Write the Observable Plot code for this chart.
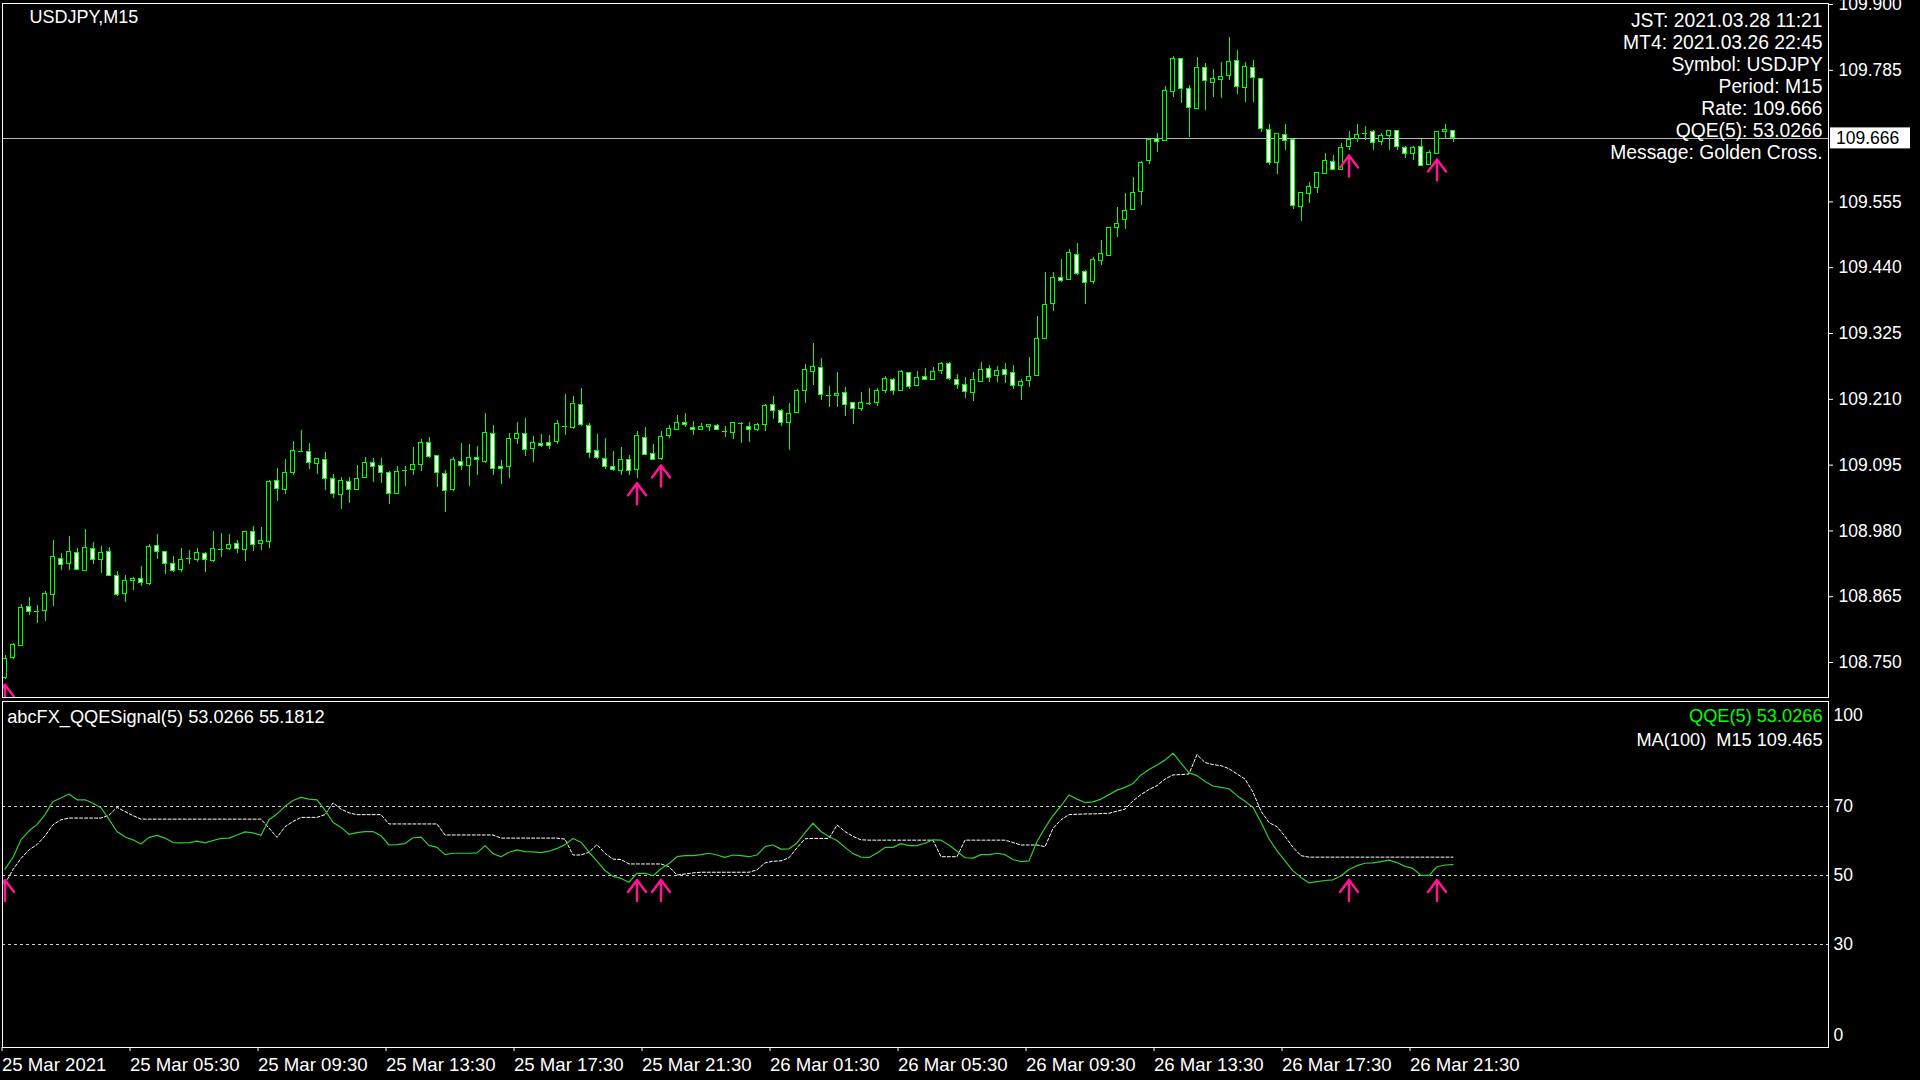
<!DOCTYPE html>
<html><head><meta charset="utf-8">
<script src="https://cdn.jsdelivr.net/npm/d3@7"></script>
<script src="https://cdn.jsdelivr.net/npm/@observablehq/plot@0.6"></script>
<style>
html,body{margin:0;padding:0;background:#000;}
#chart{position:relative;width:1920px;height:1080px;background:#000;overflow:hidden;}
#chart svg{position:absolute;left:0;}
svg text{white-space:pre;}
</style></head><body><div id="chart"></div>
<script>
// ---- data (USDJPY M15, bar 0 = 25 Mar 01:30) ----
const opens = [
108.723,108.758,108.779,108.847,108.840,108.840,108.868,108.931,108.922,108.942,
108.910,108.949,108.929,108.943,108.901,108.869,108.892,108.896,108.887,108.954,
108.943,108.922,108.911,108.931,108.929,108.940,108.927,108.948,108.948,108.957,
108.946,108.978,108.957,108.960,109.068,109.051,109.081,109.119,109.118,109.097,
109.104,109.070,109.042,109.066,109.052,109.072,109.099,109.094,109.082,109.045,
109.085,109.086,109.095,109.134,109.111,109.080,109.051,109.101,109.093,109.108,
109.101,109.150,109.092,109.091,109.140,109.150,109.123,109.132,109.134,109.135,
109.163,109.160,109.200,109.164,109.119,109.106,109.091,109.084,109.104,109.086,
109.143,109.115,109.105,109.146,109.156,109.169,109.160,109.156,109.162,109.164,
109.153,109.151,109.167,109.162,109.156,109.165,109.200,109.190,109.168,109.186,
109.224,109.258,109.265,109.216,109.216,109.221,109.203,109.193,109.203,109.203,
109.224,109.244,109.225,109.256,109.233,109.249,109.243,109.259,109.271,109.244,
109.235,109.221,109.241,109.263,109.250,109.261,109.256,109.233,109.242,109.250,
109.315,109.376,109.422,109.418,109.462,109.433,109.415,109.451,109.461,109.509,
109.523,109.541,109.572,109.626,109.665,109.661,109.747,109.805,109.753,109.717,
109.789,109.763,109.768,109.775,109.802,109.754,109.789,109.769,109.681,109.623,
109.672,109.664,109.546,109.569,109.579,109.604,109.625,109.611,109.651,109.665,
109.675,109.677,109.660,109.671,109.679,109.650,109.639,109.651,109.620,109.639,
109.678,109.679];
const highs = [
108.762,108.783,108.851,108.863,108.849,108.874,108.964,108.940,108.971,108.949,
108.982,108.960,108.952,108.951,108.909,108.902,108.899,108.918,108.956,108.974,
108.944,108.936,108.949,108.946,108.949,108.943,108.979,108.975,108.973,108.963,
108.979,108.988,108.986,109.068,109.089,109.104,109.137,109.155,109.133,109.107,
109.117,109.079,109.073,109.073,109.094,109.108,109.106,109.106,109.083,109.093,
109.093,109.126,109.140,109.143,109.112,109.086,109.109,109.133,109.131,109.128,
109.185,109.164,109.103,109.150,109.170,109.176,109.145,109.148,109.146,109.173,
109.218,109.215,109.229,109.167,109.149,109.141,109.119,109.125,109.112,109.153,
109.161,109.131,109.154,109.164,109.182,109.185,109.171,109.167,109.166,109.166,
109.163,109.170,109.170,109.170,109.167,109.201,109.215,109.193,109.202,109.228,
109.271,109.308,109.281,109.232,109.257,109.231,109.205,109.222,109.229,109.229,
109.250,109.246,109.260,109.257,109.259,109.264,109.266,109.274,109.274,109.253,
109.248,109.256,109.274,109.269,109.267,109.273,109.269,109.245,109.283,109.355,
109.432,109.431,109.454,109.472,109.482,109.435,109.457,109.488,109.511,109.545,
109.570,109.598,109.626,109.665,109.675,109.757,109.809,109.806,109.758,109.807,
109.797,109.786,109.799,109.842,109.820,109.799,109.802,109.770,109.691,109.675,
109.690,109.664,109.571,109.589,109.606,109.640,109.636,109.657,109.678,109.690,
109.687,109.679,109.675,109.680,109.680,109.651,109.652,109.664,109.644,109.678,
109.690,109.680];
const lows = [
108.720,108.756,108.778,108.833,108.819,108.822,108.848,108.910,108.910,108.910,
108.909,108.921,108.906,108.900,108.866,108.855,108.876,108.883,108.885,108.930,
108.904,108.908,108.908,108.921,108.925,108.907,108.924,108.933,108.946,108.941,
108.927,108.944,108.945,108.950,109.032,109.044,109.077,109.118,109.087,109.079,
109.051,109.037,109.018,109.028,109.051,109.071,109.065,109.063,109.027,109.044,
109.058,109.077,109.083,109.107,109.056,109.013,109.049,109.086,109.058,109.077,
109.098,109.077,109.062,109.072,109.131,109.110,109.100,109.125,109.123,109.131,
109.146,109.158,109.163,109.107,109.105,109.088,109.083,109.077,109.076,109.072,
109.112,109.103,109.103,109.141,109.156,109.161,109.147,109.155,109.154,109.155,
109.143,109.140,109.132,109.135,109.153,109.154,109.175,109.162,109.121,109.185,
109.203,109.234,109.208,109.196,109.196,109.180,109.166,109.188,109.200,109.197,
109.220,109.217,109.223,109.227,109.233,109.243,109.243,109.253,109.243,109.228,
109.211,109.207,109.239,109.239,109.239,109.238,109.228,109.208,109.231,109.250,
109.315,109.363,109.415,109.417,109.427,109.376,109.411,109.444,109.460,109.493,
109.506,109.540,109.549,109.621,109.642,109.660,109.738,109.727,109.668,109.716,
109.715,109.738,109.736,109.767,109.743,109.728,109.729,109.676,109.619,109.603,
109.644,109.542,109.521,109.553,109.569,109.604,109.611,109.610,109.645,109.658,
109.663,109.644,109.654,109.645,109.644,109.630,109.627,109.617,109.619,109.638,
109.664,109.658];
const closes = [
108.756,108.781,108.846,108.838,108.840,108.870,108.935,108.921,108.943,108.911,
108.950,108.929,108.942,108.901,108.868,108.893,108.896,108.889,108.952,108.943,
108.922,108.910,108.929,108.931,108.942,108.929,108.949,108.948,108.956,108.948,
108.978,108.955,108.962,109.066,109.053,109.082,109.120,109.119,109.098,109.106,
109.070,109.044,109.068,109.052,109.071,109.099,109.092,109.081,109.045,109.083,
109.085,109.095,109.134,109.109,109.082,109.050,109.104,109.094,109.108,109.104,
109.151,109.088,109.088,109.141,109.150,109.122,109.134,109.128,109.128,109.166,
109.163,109.201,109.165,109.116,109.107,109.091,109.086,109.104,109.085,109.146,
109.112,109.104,109.144,109.159,109.169,109.165,109.157,109.162,109.165,109.157,
109.153,109.169,109.167,109.157,109.165,109.199,109.189,109.168,109.185,109.225,
109.262,109.266,109.217,109.216,109.220,109.200,109.193,109.203,109.203,109.225,
109.246,109.224,109.257,109.231,109.248,109.243,109.258,109.271,109.245,109.235,
109.222,109.243,109.262,109.248,109.259,109.253,109.234,109.241,109.249,109.316,
109.375,109.422,109.417,109.466,109.429,109.413,109.454,109.464,109.510,109.517,
109.539,109.571,109.623,109.664,109.659,109.749,109.805,109.753,109.719,109.789,
109.766,109.770,109.774,109.800,109.756,109.791,109.772,109.682,109.623,109.673,
109.662,109.548,109.571,109.581,109.606,109.627,109.611,109.650,109.664,109.672,
109.675,109.658,109.671,109.679,109.651,109.639,109.650,109.618,109.640,109.678,
109.681,109.666];
const qqe = [
51.7,55.1,60.2,62.8,64.6,67.5,71.3,72.3,73.5,71.8,
71.8,70.8,69.5,66.1,62.6,61.0,60.2,59.0,60.9,61.5,
60.7,59.4,59.3,59.4,59.8,59.3,60.0,60.6,60.7,61.6,
62.5,62.2,61.5,66.0,67.7,69.9,71.6,72.5,72.0,71.8,
68.8,65.3,63.8,61.8,62.3,62.6,62.6,61.4,58.7,58.8,
59.1,60.8,61.0,58.6,58.0,55.9,56.3,56.3,56.3,56.4,
58.5,56.2,55.3,56.6,57.3,56.8,56.7,56.5,56.9,57.7,
58.8,60.6,59.5,56.6,54.0,51.3,49.6,49.0,47.9,50.5,
50.5,49.8,51.8,53.3,55.3,55.6,55.6,55.9,56.3,55.8,
55.1,55.8,55.6,55.3,55.8,58.2,58.7,57.5,57.6,59.3,
62.3,65.0,62.6,61.1,60.0,58.0,56.2,55.2,55.1,56.4,
58.0,58.0,59.1,58.5,58.5,59.2,60.2,60.1,58.7,56.9,
55.0,54.9,55.9,55.9,56.3,55.9,54.5,53.9,54.1,59.7,
63.7,67.2,70.0,73.2,72.0,71.0,71.2,72.0,73.3,74.6,
75.4,76.5,79.0,80.6,81.9,83.3,85.3,82.4,79.6,78.8,
77.1,75.8,75.4,75.0,73.0,71.4,69.6,65.3,60.5,57.0,
54.1,51.2,49.3,47.7,48.1,48.4,48.6,49.8,51.6,52.7,
53.4,53.5,53.9,54.3,53.6,52.5,51.9,49.9,49.9,52.4,
52.9,53.0266];
const signal = [
47.5,51.6,54.8,57.3,58.8,61.3,64.6,66.0,66.5,66.5,
66.5,66.5,66.5,67.3,69.6,68.4,67.2,66.2,66.2,66.2,
66.2,66.2,66.2,66.2,66.2,66.2,66.2,66.2,66.2,66.2,
66.2,66.2,66.2,63.6,60.9,64.0,65.5,66.7,66.7,66.7,
67.5,70.9,69.1,68.0,67.5,67.5,67.5,67.5,64.8,64.8,
64.8,64.8,64.8,64.8,64.8,61.6,61.6,61.6,61.6,61.6,
61.6,61.6,60.7,60.7,60.7,60.7,60.7,60.7,60.7,60.7,
60.4,55.8,55.8,56.6,58.8,56.3,54.6,54.5,53.2,53.2,
53.2,53.2,53.2,52.4,50.0,50.3,50.6,50.8,50.8,50.8,
50.8,50.8,50.8,50.8,51.5,53.5,54.0,54.1,55.0,57.9,
60.5,60.6,60.6,60.6,64.5,62.6,61.2,60.2,60.1,60.1,
60.1,60.1,60.1,60.1,60.1,60.1,60.1,55.3,55.3,55.3,
60.1,60.1,60.1,60.1,60.1,60.1,59.4,58.7,58.7,58.7,
58.2,63.5,66.0,67.5,67.6,67.7,67.7,67.8,67.9,68.5,
69.1,71.5,73.3,74.8,75.9,77.8,79.0,79.1,79.3,84.9,
82.6,82.0,81.7,80.8,79.3,77.8,74.0,68.5,65.2,64.0,
61.2,58.0,55.6,55.1812,55.1812,55.1812,55.1812,55.1812,55.1812,55.1812,
55.1812,55.1812,55.1812,55.1812,55.1812,55.1812,55.1812,55.1812,55.1812,55.1812,
55.1812,55.1812];
const signalBars = [0, 79, 82, 168, 179];        // golden-cross arrows
const crossLevel = 50;
const levels = [70, 50, 30];
const qqeTicks = [100, 70, 50, 30, 0];
const priceTicks = [109.900, 109.785, 109.555, 109.440, 109.325, 109.210, 109.095, 108.980, 108.865, 108.750];
const timeTicks = [0, 16, 32, 48, 64, 80, 96, 112, 128, 144, 160, 176];
const timeLabels = ["25 Mar 2021","25 Mar 05:30","25 Mar 09:30","25 Mar 13:30","25 Mar 17:30","25 Mar 21:30",
                    "26 Mar 01:30","26 Mar 05:30","26 Mar 09:30","26 Mar 13:30","26 Mar 17:30","26 Mar 21:30"];
const rate = 109.666;
const qqeLast = 53.0266, signalLast = 55.1812, maLast = 109.465;
const symbolLabel = "USDJPY,M15";
const infoLines = ["JST: 2021.03.28 11:21","MT4: 2021.03.26 22:45","Symbol: USDJPY","Period: M15",
                   "Rate: " + rate.toFixed(3),"QQE(5): " + qqeLast.toFixed(4),"Message: Golden Cross."];

// ---- drawing ----
const FONT = "'Liberation Sans', Arial, sans-serif";
const GREEN = "#00ff00";
const PINK = "#ff1493";
const bars = opens.map((o, i) => ({i, open: o, high: highs[i], low: lows[i], close: closes[i]}));
const arrowShape = {draw(ctx, l) { ctx.moveTo(0, 0); ctx.lineTo(0, -l); ctx.moveTo(-9, -l + 12); ctx.lineTo(0, -l); ctx.lineTo(9, -l + 12); }};
const baseStyle = {background: "#000", color: "#fff", fontFamily: FONT, fontSize: "17.5px", overflow: "visible"};

const main = Plot.plot({
  width: 1920, height: 700,
  marginTop: 2.5, marginBottom: 3, marginLeft: 2, marginRight: 92,
  style: baseStyle,
  x: {domain: [0, 181], range: [4.5, 1452.5], axis: null},
  y: {domain: [108.7, 109.9], range: [690.64, 4]},
  marks: [
    Plot.ruleY([rate], {stroke: "#b8b8b8", shapeRendering: "crispEdges"}),
    Plot.ruleX(bars, {x: "i", y1: "low", y2: "high", stroke: GREEN, shapeRendering: "crispEdges", clip: true}),
    Plot.rect(bars.filter(d => d.close > d.open), {x1: d => d.i - 0.25, x2: d => d.i + 0.25, y1: "open", y2: "close", fill: "#000", stroke: GREEN, shapeRendering: "crispEdges"}),
    Plot.rect(bars.filter(d => d.close < d.open), {x1: d => d.i - 0.25, x2: d => d.i + 0.25, y1: "open", y2: "close", fill: "#fff", stroke: GREEN, shapeRendering: "crispEdges"}),
    Plot.ruleY(bars.filter(d => d.close === d.open), {y: "close", x1: d => d.i - 0.3, x2: d => d.i + 0.3, stroke: GREEN, shapeRendering: "crispEdges"}),
    Plot.vector(signalBars, {x: d => d, y: d => lows[d], length: 21, anchor: "end", dy: 5, shape: arrowShape, stroke: PINK, strokeWidth: 2.5, clip: true}),
    Plot.axisY(priceTicks, {anchor: "right", tickSize: 4, tickPadding: 6, tickFormat: d => d.toFixed(3), label: null, fontSize: 17.5}),
    Plot.text([symbolLabel], {frameAnchor: "top-left", dx: 27, dy: 14.5, lineAnchor: "middle", textAnchor: "start", fill: "#fff", fontSize: 18}),
    Plot.text([infoLines.join("\n")], {frameAnchor: "top-right", textAnchor: "end", lineAnchor: "middle", lineHeight: 21.9 / 19.3, dx: -6, dy: 83, fontSize: 19.3, fill: "#fff"}),
    Plot.frame({stroke: "#fff", shapeRendering: "crispEdges"})
  ]
});

const ind = Plot.plot({
  width: 1920, height: 380,
  marginTop: 1, marginBottom: 33, marginLeft: 2, marginRight: 92,
  style: baseStyle,
  x: {domain: [0, 181], range: [4.5, 1452.5]},
  y: {domain: [0, 100], range: [347, 2]},
  marks: [
    Plot.ruleY(levels, {stroke: "#d0d0d0", strokeDasharray: "3,3", shapeRendering: "crispEdges"}),
    Plot.line(signal, {x: (d, i) => i, y: d => d, stroke: "#fff", strokeDasharray: "3,2", strokeWidth: 1}),
    Plot.line(qqe, {x: (d, i) => i, y: d => d, stroke: "#32cd32", strokeWidth: 1.2}),
    Plot.vector(signalBars, {x: d => d, y: () => crossLevel, length: 21, anchor: "end", dy: 5, shape: arrowShape, stroke: PINK, strokeWidth: 2.5, clip: true}),
    Plot.axisX(timeTicks, {anchor: "bottom", tickSize: 4, tickPadding: 6, tickFormat: d => timeLabels[timeTicks.indexOf(d)], textAnchor: "start", dx: -3, label: null, fontSize: 18.6}),
    Plot.axisY(qqeTicks.filter(t => t > 0 && t < 100), {anchor: "right", tickSize: 0, tickPadding: 5, label: null}),
    Plot.axisY(qqeTicks.filter(t => t === 100), {anchor: "right", tickSize: 0, tickPadding: 5, dy: 13, label: null}),
    Plot.axisY(qqeTicks.filter(t => t === 0), {anchor: "right", tickSize: 0, tickPadding: 5, dy: -12, label: null}),
    Plot.text([`abcFX_QQESignal(5) ${qqeLast.toFixed(4)} ${signalLast.toFixed(4)}`], {frameAnchor: "top-left", dx: 4.7, dy: 15.7, lineAnchor: "middle", textAnchor: "start", fontSize: 18.2, fill: "#fff"}),
    Plot.text([`QQE(5) ${qqeLast.toFixed(4)}`], {frameAnchor: "top-right", dx: -6, dy: 15, lineAnchor: "middle", textAnchor: "end", fontSize: 18.2, fill: "#00ff00"}),
    Plot.text([`MA(100)  M15 ${maLast.toFixed(3)}`], {frameAnchor: "top-right", dx: -6, dy: 39, lineAnchor: "middle", textAnchor: "end", fontSize: 18.2, fill: "#fff"}),
    Plot.frame({stroke: "#fff", shapeRendering: "crispEdges"})
  ]
});

main.style.top = "0px";
ind.style.top = "700px";
const host = document.getElementById("chart");
host.appendChild(main);
host.appendChild(ind);

// current-price tag on the right axis, positioned with the plot's own y scale
const yRate = main.scale("y").apply(rate);
const svgMain = d3.select(main);
svgMain.append("rect").attr("x", 1830).attr("y", yRate - 10.5).attr("width", 80).attr("height", 21).attr("fill", "#fff");
svgMain.append("text").attr("x", 1836).attr("y", yRate).attr("dy", "0.36em").attr("fill", "#000")
  .attr("text-anchor", "start").attr("font-family", FONT).attr("font-size", 17.5).text(rate.toFixed(3));
</script></body></html>
